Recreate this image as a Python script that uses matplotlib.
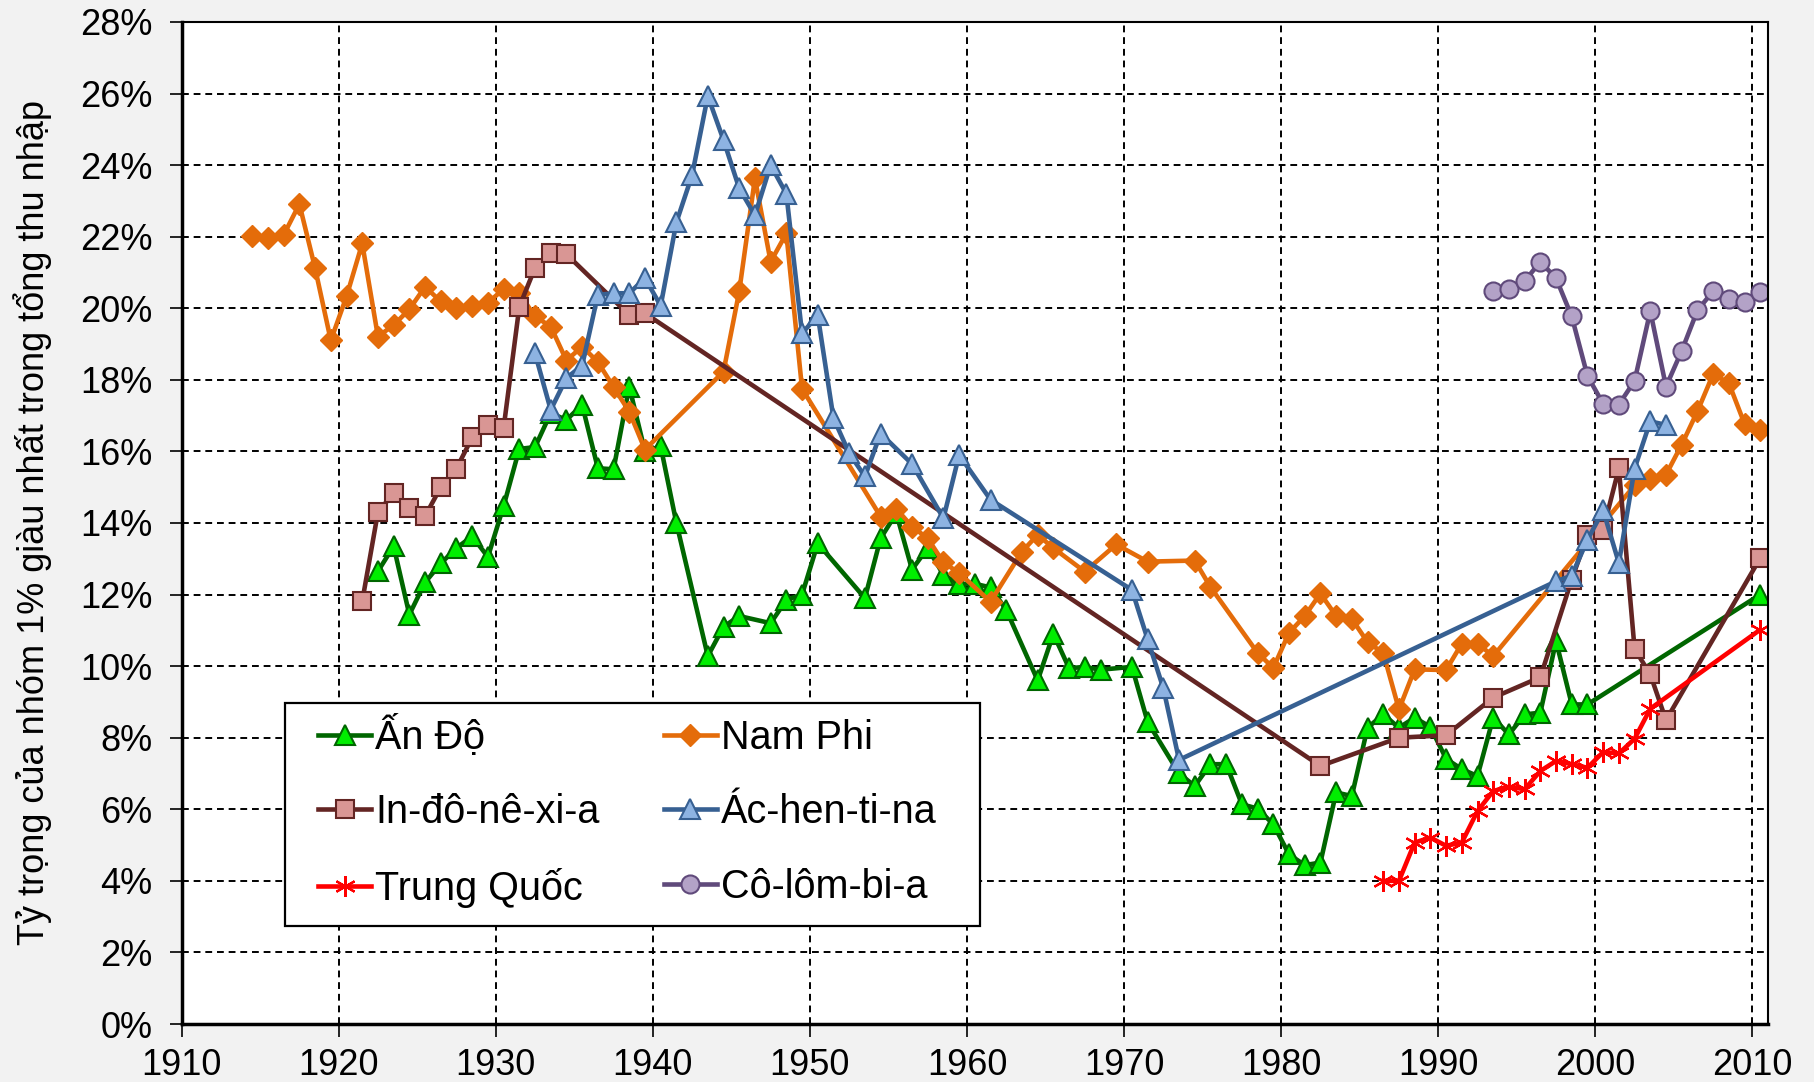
import matplotlib
matplotlib.use("Agg")
import matplotlib.pyplot as plt
from matplotlib.patches import Rectangle
import numpy as np

plt.rcParams['font.family'] = ['Liberation Sans', 'DejaVu Sans']

# Ấn Độ
an_do_nam = [1922, 1923, 1924, 1925, 1926, 1927, 1928, 1929, 1930, 1931, 1932, 1933, 1934, 1935,
             1936, 1937, 1938, 1939, 1940, 1941, 1943, 1944, 1945, 1947, 1948, 1949, 1950, 1953,
             1954, 1955, 1956, 1957, 1958, 1959, 1960, 1961, 1962, 1964, 1965, 1966, 1967, 1968,
             1970, 1971, 1973, 1974, 1975, 1976, 1977, 1978, 1979, 1980, 1981, 1982, 1983, 1984,
             1985, 1986, 1987, 1988, 1989, 1990, 1991, 1992, 1993, 1994, 1995, 1996, 1997, 1998,
             1999, 2010]
an_do = [12.65, 13.35, 11.44, 12.34, 12.87, 13.3, 13.63, 13.05, 14.47, 16.07, 16.12, 17.07, 16.88, 17.3,
         15.53, 15.5, 17.81, 16.0, 16.14, 14.0, 10.28, 11.1, 11.4, 11.2, 11.85, 12.0, 13.43, 11.9,
         13.57, 14.27, 12.7, 13.3, 12.55, 12.3, 12.3, 12.2, 11.57, 9.6, 10.9, 9.94, 9.98, 9.9,
         9.98, 8.44, 7.0, 6.65, 7.26, 7.26, 6.14, 6.02, 5.58, 4.74, 4.44, 4.51, 6.47, 6.37,
         8.28, 8.65, 8.28, 8.56, 8.3, 7.41, 7.12, 6.93, 8.56, 8.09, 8.65, 8.7, 10.7, 8.93,
         8.93, 12.0]

# Nam Phi
nam_phi_nam = [1914, 1915, 1916, 1917, 1918, 1919, 1920, 1921, 1922, 1923, 1924, 1925, 1926, 1927,
               1928, 1929, 1930, 1931, 1932, 1933, 1934, 1935, 1936, 1937, 1938, 1939, 1944, 1945,
               1946, 1947, 1948, 1949, 1954, 1955, 1956, 1957, 1958, 1959, 1961, 1963, 1964, 1965,
               1967, 1969, 1971, 1974, 1975, 1978, 1979, 1980, 1981, 1982, 1983, 1984, 1985, 1986,
               1987, 1988, 1990, 1991, 1992, 1993, 2002, 2003, 2004, 2005, 2006, 2007, 2008, 2009,
               2010]
nam_phi = [22.02, 21.95, 22.05, 22.91, 21.12, 19.1, 20.33, 21.81, 19.21, 19.53, 19.97, 20.6, 20.19, 20.0,
           20.07, 20.15, 20.54, 20.42, 19.77, 19.49, 18.54, 18.93, 18.5, 17.8, 17.11, 16.05, 18.23, 20.47,
           23.63, 21.3, 22.09, 17.75, 14.18, 14.4, 13.9, 13.57, 12.9, 12.6, 11.8, 13.2, 13.67, 13.3,
           12.64, 13.4, 12.92, 12.95, 12.21, 10.37, 9.95, 10.93, 11.4, 12.03, 11.4, 11.32, 10.67, 10.37,
           8.79, 9.91, 9.89, 10.63, 10.63, 10.28, 15.05, 15.23, 15.35, 16.19, 17.12, 18.16, 17.91, 16.77,
           16.59]

# In-đô-nê-xi-a
indo_nam = [1921, 1922, 1923, 1924, 1925, 1926, 1927, 1928, 1929, 1930, 1931, 1932, 1933, 1934,
            1938, 1939, 1982, 1987, 1990, 1993, 1996, 1998, 1999, 2000, 2001, 2002, 2003, 2004, 2010]
indo = [11.81, 14.3, 14.84, 14.42, 14.19, 15.0, 15.52, 16.39, 16.73, 16.65, 20.04, 21.13, 21.55, 21.51,
        19.81, 19.86, 7.21, 8.0, 8.07, 9.12, 9.69, 12.42, 13.67, 13.81, 15.53, 10.48, 9.77, 8.49, 13.02]

# Ác-hen-ti-na
ac_nam = [1932, 1933, 1934, 1935, 1936, 1937, 1938, 1939, 1940, 1941, 1942, 1943, 1944, 1945,
          1946, 1947, 1948, 1949, 1950, 1951, 1952, 1953, 1954, 1956, 1958, 1959, 1961, 1970,
          1971, 1972, 1973, 1997, 1998, 1999, 2000, 2001, 2002, 2003, 2004]
ac = [18.74, 17.16, 18.05, 18.4, 20.37, 20.42, 20.42, 20.84, 20.07, 22.4, 23.72, 25.93, 24.7, 23.35,
      22.6, 24.0, 23.2, 19.3, 19.8, 16.93, 15.95, 15.3, 16.5, 15.65, 14.13, 15.9, 14.65, 12.13,
      10.75, 9.38, 7.38, 12.37, 12.53, 13.53, 14.35, 12.88, 15.52, 16.84, 16.74]

# Trung Quốc
tq_nam = [1986, 1987, 1988, 1989, 1990, 1991, 1992, 1993, 1994, 1995, 1996, 1997, 1998, 1999,
          2000, 2001, 2002, 2003, 2010]
tq = [4.0, 4.0, 5.07, 5.21, 4.98, 5.07, 5.95, 6.51, 6.63, 6.56, 7.07, 7.35, 7.26, 7.16,
      7.6, 7.56, 7.97, 8.81, 11.02]

# Cô-lôm-bi-a
col_nam = [1993, 1994, 1995, 1996, 1997, 1998, 1999, 2000, 2001, 2002, 2003, 2004, 2005, 2006,
           2007, 2008, 2009, 2010]
col = [20.48, 20.54, 20.76, 21.3, 20.84, 19.77, 18.11, 17.33, 17.31, 17.97, 19.92, 17.81, 18.81, 19.94,
       20.48, 20.26, 20.17, 20.45]

fig = plt.figure(figsize=(18.14, 10.82), dpi=100, facecolor='#f2f2f2')
ax = fig.add_axes([0.1001, 0.0536, 0.8746, 0.9261])
ax.set_facecolor('white')

def ve(nam, gt, **kw):
    # điểm nằm giữa năm
    x = np.array(nam) + 0.5
    return ax.plot(x, gt, lw=3.3, **kw)[0]

h1 = ve(an_do_nam, an_do, color='#006600', marker='^', ms=15, mfc='#00ee00', mec='#006600', mew=1.5, label='Ấn Độ')
h2 = ve(nam_phi_nam, nam_phi, color='#e46c0a', marker='D', ms=11, mfc='#e46c0a', mec='#e46c0a', label='Nam Phi')
h3 = ve(indo_nam, indo, color='#632523', marker='s', ms=13, mfc='#d99694', mec='#632523', mew=1.5, label='In-đô-nê-xi-a')
h4 = ve(ac_nam, ac, color='#376092', marker='^', ms=15, mfc='#8db3e2', mec='#376092', mew=1.5, label='Ác-hen-ti-na')
h5 = ve(tq_nam, tq, color='#ff0000', marker=(6, 2, 0), ms=15, mfc='#ff0000', mec='#ff0000', mew=1.6, label='Trung Quốc')
h6 = ve(col_nam, col, color='#604a7b', marker='o', ms=13, mfc='#b3a2c7', mec='#604a7b', mew=1.5, label='Cô-lôm-bi-a')

ax.set_xlim(1910, 2011)
ax.set_ylim(0, 28)
ax.set_xticks(range(1910, 2011, 10))
ax.set_yticks(range(0, 29, 2))
ax.set_yticklabels([f'{v}%' for v in range(0, 29, 2)])
ax.tick_params(axis='both', direction='out', length=9, width=1.2, color='black', labelsize=26)
ax.tick_params(axis='x', pad=8)
ax.tick_params(axis='y', pad=12)

ax.grid(True, color='black', linestyle=(0, (3.5, 2.5)), linewidth=1.4)
ax.set_axisbelow(True)

for s in ['left', 'bottom']:
    ax.spines[s].set_linewidth(2.5)
for s in ['right', 'top']:
    ax.spines[s].set_linewidth(1.5)

ax.set_ylabel('Tỷ trọng của nhóm 1% giàu nhất trong tổng thu nhập', fontsize=26, labelpad=20)

# khung chú giải
khung = Rectangle((0.065, 0.098), 0.438, 0.222, transform=ax.transAxes,
                  facecolor='white', edgecolor='black', linewidth=1.6, zorder=4)
ax.add_patch(khung)

leg = ax.legend(handles=[h1, h3, h5, h2, h4, h6], ncol=2, loc='center left',
                bbox_to_anchor=(0.086, 0.2123, 0.390, 0.0), mode='expand',
                fontsize=28.5, frameon=False, borderaxespad=0, handlelength=1.35,
                handletextpad=0.1, labelspacing=0.92, borderpad=0.0, columnspacing=1.0)
leg.set_zorder(5)

fig.savefig('out.png', dpi=100, facecolor=fig.get_facecolor())
